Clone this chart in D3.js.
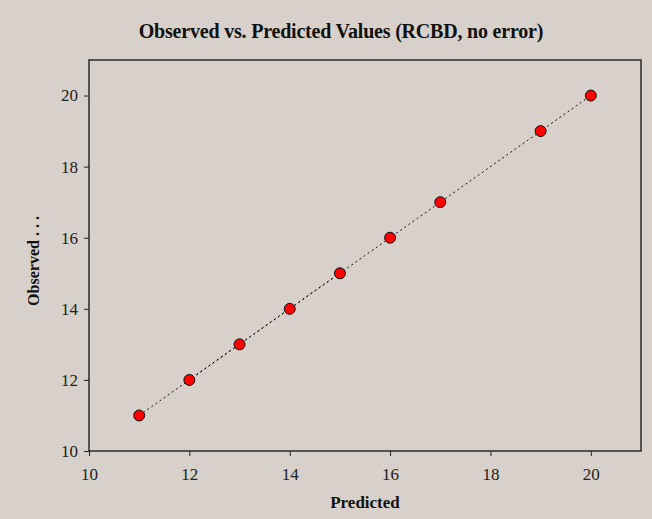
<!DOCTYPE html>
<html>
<head>
<meta charset="utf-8">
<script src="https://cdn.jsdelivr.net/npm/d3@7"></script>
<style>
  html, body { margin: 0; padding: 0; background: #d8d0ca; }
  svg { display: block; font-family: "Liberation Serif", "DejaVu Serif", serif; }
</style>
</head>
<body>
<div class="main"></div>
<script>
////Data
const predicted = [11, 12, 13, 14, 15, 16, 17, 19, 20];
const observed = [11, 12, 13, 14, 15, 16, 17, 19, 20];
const fitLine = [[11, 11], [20, 20]];
const overlapLine = [[12, 12], [15, 15]];
const xTicks = [10, 12, 14, 16, 18, 20];
const yTicks = [10, 12, 14, 16, 18, 20];

////Global Variables
const width = 652;
const height = 519;
const margin = { top: 60, right: 11, bottom: 68, left: 89 };

const svg = d3.select('.main').append('svg')
  .attr('width', width)
  .attr('height', height);

svg.append('rect')
  .attr('width', width).attr('height', height)
  .attr('fill', '#d8d0ca');

const xScale = d3.scaleLinear().domain([10, 21])
  .range([margin.left, width - margin.right]);
const yScale = d3.scaleLinear().domain([10, 21])
  .range([height - margin.bottom, margin.top]);

////Plot frame
svg.append('rect')
  .attr('x', margin.left).attr('y', margin.top)
  .attr('width', width - margin.right - margin.left)
  .attr('height', height - margin.bottom - margin.top)
  .attr('fill', 'none')
  .attr('stroke', '#111')
  .attr('stroke-width', 1.3);

////Axes
const xAxis = d3.axisBottom(xScale).tickValues(xTicks).tickSize(5).tickSizeOuter(0).tickPadding(12);
const yAxis = d3.axisLeft(yScale).tickValues(yTicks).tickSize(5).tickSizeOuter(0).tickPadding(6);

const gx = svg.append('g')
  .attr('transform', `translate(0, ${height - margin.bottom})`)
  .call(xAxis);
const gy = svg.append('g')
  .attr('transform', `translate(${margin.left}, 0)`)
  .call(yAxis);

[gx, gy].forEach(g => {
  g.select('.domain').remove();
  g.selectAll('line').attr('stroke', '#222');
  g.selectAll('text')
    .attr('font-family', '"Liberation Serif", serif')
    .attr('font-size', 17)
    .attr('fill', '#222');
});

////Lines
const line = d3.line().x(d => xScale(d[0])).y(d => yScale(d[1]));

svg.append('path')
  .datum(fitLine)
  .attr('d', line)
  .attr('fill', 'none')
  .attr('stroke', '#111')
  .attr('stroke-width', 1)
  .attr('stroke-dasharray', '2,3');

svg.append('path')
  .datum(overlapLine)
  .attr('d', line)
  .attr('fill', 'none')
  .attr('stroke', '#111')
  .attr('stroke-width', 1)
  .attr('stroke-dasharray', '2,3')
  .attr('stroke-dashoffset', 2.5)
  .attr('transform', 'translate(1,-1)');

////Points
svg.selectAll('circle.dot')
  .data(predicted.map((p, i) => [p, observed[i]]))
  .enter()
  .append('circle')
  .attr('class', 'dot')
  .attr('cx', d => xScale(d[0]))
  .attr('cy', d => yScale(d[1]))
  .attr('r', 5.5)
  .attr('fill', '#ff0000')
  .attr('stroke', '#111')
  .attr('stroke-width', 1);

////Titles
svg.append('text')
  .attr('x', 341).attr('y', 38)
  .attr('text-anchor', 'middle')
  .attr('font-size', 20)
  .attr('font-weight', 'bold')
  .attr('fill', '#111')
  .attr('letter-spacing', -0.2)
  .text('Observed vs. Predicted Values (RCBD, no error)');

svg.append('text')
  .attr('x', (margin.left + width - margin.right) / 2)
  .attr('y', 508)
  .attr('text-anchor', 'middle')
  .attr('font-size', 17)
  .attr('font-weight', 'bold')
  .attr('fill', '#111')
  .text('Predicted');

svg.append('text')
  .attr('transform', 'translate(39, 261) rotate(-90)')
  .attr('text-anchor', 'middle')
  .attr('font-size', 16)
  .attr('font-weight', 'bold')
  .attr('fill', '#111')
  .text('Observed . . .');
</script>
</body>
</html>
